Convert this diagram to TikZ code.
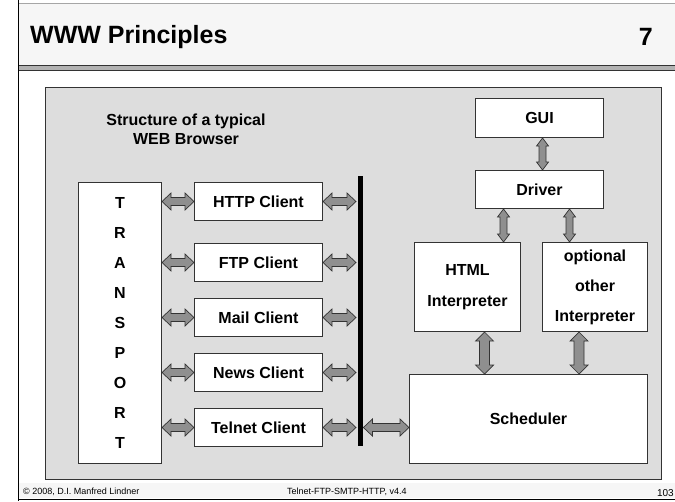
\documentclass[tikz,border=0pt]{standalone}
\usepackage{fontspec}
\setmainfont{Liberation Sans}
\usetikzlibrary{calc}
\definecolor{panelgray}{HTML}{DDDDDD}
\definecolor{titlebg}{HTML}{F6F6F6}
\definecolor{arrowfill}{HTML}{8F8F8F}
\definecolor{edgecol}{HTML}{333333}
% horizontal block arrow: x from #1, x and y from #2
\newcommand{\harrowb}[4]{%
 \draw[barrow] let \p1=#1, \p2=#2 in (\x1,\y2) -- ++(9pt,#3) -- ++(0,#4-#3) -- (\x2-9pt,\y2+#4) -- ++(0,#3-#4) -- (\x2,\y2) -- ++(-9pt,-#3) -- ++(0,#3-#4) -- (\x1+9pt,\y2-#4) -- ++(0,#4-#3) -- cycle;}
% vertical block arrow: x and y from #1, y from #2
\newcommand{\varrowb}[5]{%
 \draw[barrow] let \p1=#1, \p2=#2 in (\x1,\y1) -- ++(#3,-#5) -- ++(#4-#3,0) -- (\x1+#4,\y2+#5) -- ++(#3-#4,0) -- (\x1,\y2) -- ++(-#3,#5) -- ++(#3-#4,0) -- (\x1-#4,\y1-#5) -- ++(#4-#3,0) -- cycle;}
\begin{document}
\begin{tikzpicture}[x=1pt,y=-1pt,
 box/.style={draw=edgecol, line width=1pt, fill=white, inner sep=0pt, align=center, font=\fontsize{16}{16}\selectfont\bfseries},
 barrow/.style={draw=edgecol, line width=0.7pt, fill=arrowfill, line join=miter},
 foot/.style={font=\fontsize{9}{9}\selectfont, inner sep=0pt}]
\useasboundingbox (0,0) rectangle (675,501);
% title bar
\fill[titlebg] (18,3) rectangle (675,65);
\draw[gray!70, line width=0.8pt] (18,3) -- (675,3);
\fill[gray!60] (18,65) rectangle (675,70);
\draw[edgecol, line width=0.8pt] (18,65) -- (675,65);
\draw[edgecol, line width=0.8pt] (18,70.5) -- (675,70.5);
\node[anchor=west, inner sep=0pt, font=\fontsize{25}{25}\selectfont\bfseries] (title) at (30,37) {WWW Principles};
\node[anchor=east, inner sep=0pt, font=\fontsize{25}{25}\selectfont\bfseries] (num) at (653,37) {7};
% footer
\fill[titlebg] (18,483) rectangle (675,498);
\draw[black, line width=1.5pt] (18,499.5) -- (675,499.5);
\draw[black, line width=1pt] (18,0) -- (18,501);
\node[foot, anchor=west] (copy) at (23,492) {\textcopyright{} 2008, D.I. Manfred Lindner};
\node[foot, anchor=west] (course) at (287,492) {Telnet-FTP-SMTP-HTTP, v4.4};
\node[foot, anchor=east, font=\fontsize{10}{10}\selectfont] (page) at (674,493) {103};
% panel
\draw[edgecol, line width=1pt, fill=panelgray] (45,87) rectangle (661,479);
\node[align=center, inner sep=0pt, font=\fontsize{16}{19}\selectfont\bfseries] (heading) at (186,129) {Structure of a typical\\WEB Browser};
% transport
\node[box, anchor=north west, minimum width=83, minimum height=281, font=\fontsize{16}{30}\selectfont\bfseries] (tr) at (78,182) {T\\R\\A\\N\\S\\P\\O\\R\\T};
% clients
\node[box, anchor=north west, minimum width=128, minimum height=38] (http) at (194,182) {HTTP Client};
\node[box, anchor=north west, minimum width=128, minimum height=38] (ftp) at (194,243) {FTP Client};
\node[box, anchor=north west, minimum width=128, minimum height=38] (mail) at (194,298) {Mail Client};
\node[box, anchor=north west, minimum width=128, minimum height=38] (news) at (194,353) {News Client};
\node[box, anchor=north west, minimum width=128, minimum height=38] (telnet) at (194,408) {Telnet Client};
% bus
\node[fill=black, inner sep=0pt, minimum width=5, minimum height=270, anchor=north west] (bus) at (358,176) {};
% right side
\node[box, anchor=north west, minimum width=128, minimum height=39] (gui) at (475,98) {GUI};
\node[box, anchor=north west, minimum width=128, minimum height=38] (driver) at (475,170) {Driver};
\node[box, anchor=north west, minimum width=106, minimum height=89, font=\fontsize{16}{31}\selectfont\bfseries] (html) at (414,242) {HTML\\Interpreter};
\node[box, anchor=north west, minimum width=105, minimum height=89, font=\fontsize{16}{30}\selectfont\bfseries] (other) at (542,242) {optional\\other\\Interpreter};
\node[box, anchor=north west, minimum width=238, minimum height=89] (sched) at (409,374) {Scheduler};
% horizontal arrows
\foreach \c in {http,ftp,mail,news,telnet}{
 \harrowb{(tr.east)}{(\c.west)}{8.5pt}{4pt}
 \harrowb{(\c.east)}{([xshift=-2pt]bus.west |- \c.east)}{8.5pt}{4pt}
}
\harrowb{(bus.east)}{(sched.west |- telnet.east)}{8.5pt}{4pt}
% vertical arrows
\varrowb{([xshift=3pt]gui.south)}{(driver.north)}{6pt}{3.5pt}{8pt}
\varrowb{([xshift=-36pt]driver.south)}{(html.north)}{6pt}{3.5pt}{8pt}
\varrowb{([xshift=30pt]driver.south)}{(other.north)}{6pt}{3.5pt}{8pt}
\varrowb{([xshift=17pt]html.south)}{(sched.north)}{9pt}{5pt}{9pt}
\varrowb{([xshift=-16pt]other.south)}{(sched.north)}{9pt}{5pt}{9pt}
\end{tikzpicture}
\end{document}
